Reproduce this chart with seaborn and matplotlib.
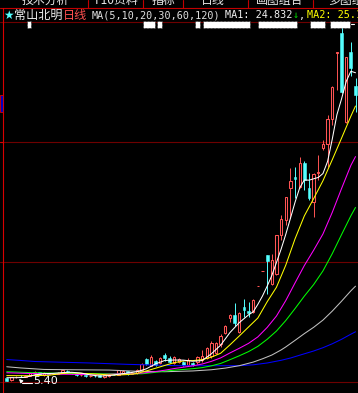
import matplotlib
matplotlib.use("Agg")
import matplotlib.pyplot as plt
import seaborn as sns
import pandas as pd
from matplotlib.patches import Rectangle
from matplotlib.lines import Line2D

W, H = 358, 393

# ---------------- data (daily candles, left to right) ----------------
opens = [5.60, 5.45, 5.66, 5.70, 5.68, 5.75, 5.92, 5.98, 5.80, 5.92,
         5.90, 5.88, 5.95, 6.10, 6.00, 5.94, 5.77, 5.80, 5.73, 5.74,
         5.78, 5.66, 5.72, 5.83, 5.80, 5.88, 6.05, 5.86, 5.95, 6.15,
         6.87, 6.40, 6.73, 6.60, 7.13, 6.93, 6.60, 6.67, 6.67, 6.47,
         6.60, 6.67, 6.80, 6.93, 7.07, 7.27, 7.87, 8.60, 9.60, 9.80,
         8.67, 10.33, 10.07, 10.00, 11.75, 12.73, 13.80, 11.87, 12.53, 15.13,
         16.13, 18.27, 19.00, 18.33, 19.93, 18.27, 17.33, 19.27, 20.93, 21.20,
         22.87, 27.27, 28.60, 22.67, 27.33, 25.07]
highs = [5.62, 5.70, 5.75, 5.78, 5.80, 5.98, 6.07, 6.02, 5.97, 5.96,
         5.95, 5.98, 6.15, 6.14, 6.03, 5.96, 5.85, 5.82, 5.78, 5.79,
         5.80, 5.85, 5.85, 5.88, 6.15, 6.15, 6.08, 6.00, 6.18, 6.60,
         6.95, 7.13, 6.80, 7.00, 7.27, 7.07, 7.05, 6.92, 6.72, 6.93,
         6.65, 7.07, 7.47, 7.65, 8.07, 8.00, 8.53, 9.12, 9.87, 10.60,
         10.00, 10.87, 10.67, 10.87, 11.75, 12.73, 13.80, 13.87, 15.15, 16.47,
         17.67, 19.60, 19.67, 20.33, 20.07, 19.27, 19.25, 20.47, 21.47, 23.13,
         25.07, 27.33, 29.13, 27.00, 28.00, 25.60]
lows = [5.40, 5.43, 5.60, 5.64, 5.65, 5.72, 5.80, 5.78, 5.76, 5.85,
        5.84, 5.86, 5.92, 5.95, 5.90, 5.74, 5.72, 5.70, 5.68, 5.70,
        5.65, 5.62, 5.70, 5.78, 5.78, 5.85, 5.82, 5.84, 5.90, 6.10,
        6.50, 6.38, 6.42, 6.55, 6.73, 6.60, 6.55, 6.62, 6.43, 6.43,
        6.40, 6.53, 6.67, 6.88, 6.93, 7.20, 7.67, 8.55, 9.33, 9.07,
        8.60, 9.67, 9.67, 9.93, 11.75, 12.73, 11.20, 11.80, 12.50, 14.80,
        15.80, 16.27, 17.60, 18.27, 18.13, 17.47, 16.33, 18.80, 20.80, 19.67,
        22.47, 24.80, 24.60, 22.60, 25.73, 23.33]
closes = [5.42, 5.66, 5.70, 5.68, 5.76, 5.93, 6.00, 5.82, 5.93, 5.90,
          5.88, 5.95, 6.13, 6.00, 5.94, 5.77, 5.80, 5.73, 5.74, 5.72,
          5.68, 5.82, 5.83, 5.80, 6.12, 6.05, 5.85, 5.95, 6.15, 6.55,
          6.53, 7.00, 6.47, 6.93, 6.93, 6.67, 7.00, 6.87, 6.47, 6.80,
          6.47, 7.00, 7.07, 7.60, 7.93, 7.93, 8.40, 9.07, 9.80, 9.27,
          9.93, 10.13, 9.93, 10.80, 11.75, 12.73, 13.40, 13.47, 15.13, 16.20,
          17.67, 18.73, 18.87, 19.93, 18.80, 17.60, 19.20, 19.33, 21.20, 22.87,
          25.00, 27.33, 24.67, 27.00, 26.27, 24.47]

# moving-average lines (candle index, value)
ma5_idx = [0, 2, 4, 6, 8, 10, 12, 14, 16, 18, 20, 22, 24, 26, 28, 30, 32, 34, 36, 38,
           40, 42, 44, 46, 48, 50, 52, 53, 54, 55, 56, 57, 58, 59, 60, 61, 62, 63, 64, 65,
           66, 67, 68, 69, 70, 71, 72, 73, 74, 75]
ma5_val = [5.62, 5.62, 5.64, 5.81, 5.89, 5.91, 5.96, 5.98, 5.93, 5.80, 5.73, 5.76, 5.85, 5.93,
           6.02, 6.21, 6.54, 6.77, 6.80, 6.79, 6.72, 6.76, 7.21, 7.79, 8.63, 9.29, 9.81, 10.01,
           10.51, 11.07, 11.72, 12.43, 13.30, 14.19, 15.17, 16.24, 17.32, 18.28, 18.80, 18.79,
           18.88, 18.97, 19.23, 20.04, 21.52, 23.15, 24.21, 25.37, 26.05, 25.95]
ma10_idx = [0, 4, 9, 12, 14, 16, 18, 20, 22, 24, 26, 28, 30, 32, 34, 36, 38, 40, 42, 44,
            46, 48, 50, 52, 54, 56, 58, 60, 62, 64, 66, 68, 70, 72, 74, 75]
ma10_val = [5.76, 5.75, 5.78, 5.90, 5.95, 5.91, 5.88, 5.85, 5.80, 5.80, 5.83, 5.90, 6.07, 6.25,
            6.44, 6.62, 6.74, 6.76, 6.82, 6.99, 7.25, 7.81, 8.40, 9.00, 9.60, 10.68, 11.65,
            13.12, 14.88, 16.41, 17.56, 18.75, 20.15, 21.59, 23.05, 23.73]
ma20_idx = [0, 5, 10, 15, 19, 20, 22, 24, 26, 28, 30, 32, 34, 36, 38, 40, 42, 44, 46, 48,
            50, 52, 54, 56, 58, 60, 62, 64, 66, 68, 70, 72, 74, 75]
ma20_val = [5.95, 5.90, 5.86, 5.84, 5.82, 5.84, 5.85, 5.87, 5.87, 5.89, 5.96, 6.03, 6.12, 6.23,
            6.32, 6.41, 6.53, 6.71, 6.94, 7.27, 7.58, 7.91, 8.34, 8.97, 9.73, 10.76, 11.94,
            13.10, 14.12, 15.20, 16.64, 18.23, 19.77, 20.36]
ma30_idx = [0, 5, 10, 15, 20, 25, 29, 30, 32, 34, 36, 38, 40, 42, 44, 46, 48, 50, 52, 54,
            56, 58, 60, 62, 64, 66, 68, 70, 72, 74, 75]
ma30_val = [6.02, 5.96, 5.92, 5.90, 5.88, 5.88, 5.88, 5.91, 5.98, 6.06, 6.12, 6.17, 6.22, 6.29,
            6.41, 6.57, 6.82, 7.08, 7.36, 7.71, 8.18, 8.73, 9.43, 10.23, 11.06, 11.83, 12.74,
            13.89, 15.16, 16.41, 16.97]
ma60_idx = [0, 3, 8, 14, 22, 28, 34, 40, 44, 47, 50, 53, 55, 57, 59, 60, 62, 64, 66, 68,
            70, 72, 74, 75]
ma60_val = [6.35, 6.27, 6.17, 6.15, 6.13, 6.05, 6.02, 6.07, 6.15, 6.26, 6.42, 6.66, 6.88, 7.13,
            7.47, 7.67, 8.11, 8.56, 8.98, 9.46, 10.06, 10.72, 11.41, 11.72]
ma120_idx = [0, 3, 6, 12, 18, 26, 37, 50, 53, 56, 59, 61, 63, 66, 68, 70, 72, 74, 75]
ma120_val = [6.83, 6.77, 6.70, 6.65, 6.60, 6.51, 6.42, 6.42, 6.48, 6.60, 6.78, 6.93, 7.12,
             7.40, 7.62, 7.88, 8.18, 8.52, 8.68]

title_name = "常山北明"
title_period = "日线"
ma_spec = "MA(5,10,20,30,60,120)"
ma1_text = "MA1: 24.832"
ma2_text = "MA2: 25.1"
low_label = "5.40"
menu_items = ["技术分析", "F10资料", "指标", "日线", "画图组合", "多图组合"]

# ---------------- style ----------------
sns.set_theme(style="dark", rc={"axes.facecolor": "black", "figure.facecolor": "black",
                                "savefig.facecolor": "black"})
plt.rcParams['font.family'] = ['DejaVu Sans', 'Noto Sans CJK SC']

RED = '#ff5454'
CYAN = '#54ffff'
GRID = '#6e0000'
AXRED = '#d80000'

fig = plt.figure(figsize=(W / 100, H / 100), dpi=100)
ax = fig.add_axes([0, 0, 1, 1])
X0, DX = 6.75, 4.65          # pixel x of first candle, pixel spacing
P_TOP, PXU = 30.8, 15.0      # price at top edge, pixels per unit
ax.set_xlim(-X0 / DX, (W - X0) / DX)
ax.set_ylim(P_TOP - H / PXU, P_TOP)
ax.set_axis_off()


def fx(px):
    return px / W


def fy(py):
    return 1 - py / H


# horizontal grid lines
for gy in [22, 142, 262, 382]:
    ax.axhline(P_TOP - gy / PXU, color=GRID, lw=0.8, zorder=0)

# ---------------- candles ----------------
df = pd.DataFrame({'i': range(len(closes)), 'o': opens, 'h': highs, 'l': lows, 'c': closes})
up = df['c'] >= df['o']
dn = ~up
ax.vlines(df['i'][up], df['l'][up], df['h'][up], color=RED, lw=0.7, zorder=2)
ax.vlines(df['i'][dn], df['l'][dn], df['h'][dn], color=CYAN, lw=0.7, zorder=2)
ax.bar(df['i'][up], (df['c'] - df['o'])[up], bottom=df['o'][up], width=0.5,
       facecolor='black', edgecolor=RED, linewidth=0.75, zorder=3)
ax.bar(df['i'][dn], (df['o'] - df['c'])[dn], bottom=df['c'][dn], width=0.6,
       facecolor=CYAN, edgecolor=CYAN, linewidth=0.4, zorder=3)

# ---------------- moving averages ----------------
for idx, val, col in [(ma120_idx, ma120_val, '#0000ff'),
                      (ma60_idx, ma60_val, '#c0c0c0'),
                      (ma30_idx, ma30_val, '#00ff00'),
                      (ma20_idx, ma20_val, '#ff00ff'),
                      (ma10_idx, ma10_val, '#ffff00'),
                      (ma5_idx, ma5_val, '#ffffff')]:
    sns.lineplot(x=idx, y=val, color=col, lw=0.75, ax=ax, zorder=4,
                 legend=False, errorbar=None, sort=False)
ax.set_axis_off()

# ---------------- frame decorations ----------------
fig.add_artist(Rectangle((0, fy(8)), 1, 1 - fy(8), transform=fig.transFigure,
                         facecolor='black', edgecolor='none', zorder=5))
fig.add_artist(Line2D([0, 1], [fy(7.8), fy(7.8)], transform=fig.transFigure,
                      color='#c00000', lw=0.8, zorder=6))
for sx in [88, 143, 183, 248, 313]:
    fig.add_artist(Line2D([fx(sx), fx(sx)], [fy(0), fy(7.8)], transform=fig.transFigure,
                          color='#c00000', lw=0.8, zorder=6))
fig.add_artist(Line2D([fx(3.3), fx(3.3)], [fy(7.8), 0], transform=fig.transFigure,
                      color=AXRED, lw=0.8, zorder=6))
fig.add_artist(Rectangle((fx(0), fy(112)), fx(2.6), (112 - 95) / H, transform=fig.transFigure,
                         facecolor='#0000c0', edgecolor=AXRED, lw=0.6, zorder=6))
fig.add_artist(Line2D([fx(0), fx(2.5)], [fy(142), fy(142)], transform=fig.transFigure,
                      color=AXRED, lw=0.8, zorder=6))

# menu bar (only the lower half visible in the screenshot)
menu_x = [45, 117, 163, 213, 280, 328]
menu_ha = ['center', 'center', 'center', 'center', 'center', 'left']
for s, mx, ha in zip(menu_items, menu_x, menu_ha):
    fig.text(fx(mx), fy(0.5), s, color='#e8e8e8', fontsize=8.6, ha=ha, va='center',
             family=['Noto Sans CJK SC', 'DejaVu Sans'], zorder=7)

# title line
TY = 15.5
fig.text(fx(3.0), fy(TY), "★", color=CYAN, fontsize=8.5, ha='left', va='center',
         family='DejaVu Sans', zorder=7)
fig.text(fx(14), fy(TY), title_name, color='#f0f0f0', fontsize=8.7, ha='left', va='center',
         family=['Noto Sans CJK SC', 'DejaVu Sans'], zorder=7)
fig.text(fx(63), fy(TY), title_period, color='#ff5050', fontsize=8.7, ha='left', va='center',
         family=['Noto Sans CJK SC', 'DejaVu Sans'], zorder=7)
mono = dict(fontsize=7.3, va='center', ha='left', family='DejaVu Sans Mono', zorder=7)
fig.text(fx(92), fy(TY), ma_spec, color='#e0e0e0', **mono)
fig.text(fx(225), fy(TY), ma1_text, color='#f0f0f0', **mono)
fig.text(fx(293), fy(TY), "↓", color='#00e000', **mono)
fig.text(fx(299), fy(TY), ",", color='#f0f0f0', **mono)
fig.text(fx(307), fy(TY), ma2_text, color='#ffff00', **mono)

# masked blocks under the title
for x0, x1 in [(27, 31), (143, 155), (157, 162), (195, 200), (203, 250),
               (258, 297), (310, 325), (330, 350)]:
    fig.add_artist(Rectangle((fx(x0), fy(27.5)), fx(x1 - x0), 6.5 / H,
                             transform=fig.transFigure, facecolor='white',
                             edgecolor='black', lw=0.5, linestyle=(0, (1, 1)), zorder=7))
fig.add_artist(Line2D([fx(351), fx(354)], [fy(24), fy(24)], transform=fig.transFigure,
                      color='white', lw=0.8, zorder=7))

# lowest price marker
fig.add_artist(Line2D([fx(22), fx(32)], [fy(382.5), fy(382.5)], transform=fig.transFigure,
                      color='white', lw=0.8, zorder=7))
ax.annotate("", xy=(fx(17), fy(377)), xycoords='figure fraction',
            xytext=(fx(22.5), fy(382.5)), textcoords='figure fraction',
            arrowprops=dict(arrowstyle='-|>', color='white', lw=0.8,
                            mutation_scale=5), zorder=7)
fig.text(fx(33), fy(381.5), low_label, color='white', fontsize=8, ha='left',
         va='center', family='DejaVu Sans', zorder=7)

fig.savefig("out.png", dpi=100, facecolor='black')
